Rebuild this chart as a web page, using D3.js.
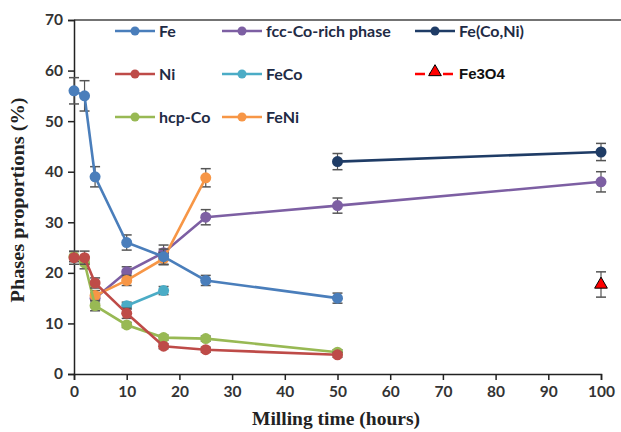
<!DOCTYPE html>
<html lang="en">
<head>
<meta charset="UTF-8">
<title>Phases proportions</title>
<script src="https://d3js.org/d3.v7.min.js"></script>
<style>
  body { margin: 0; background: #fff; }
  svg { display: block; }
  .tick text { font-family: Lato, "Open Sans", sans-serif; font-weight: bold; font-size: 15.5px; fill: #333; }
  .axis-title { font-family: "Liberation Serif", serif; font-weight: bold; font-size: 18.5px; fill: #222; }
  .legend text { font-family: Lato, sans-serif; font-weight: bold; font-size: 16px; fill: #1f2b45; }
</style>
</head>
<body>
<div id="chart"></div>
<script>
  // milling time (hours) and phase proportions (%)
  var feX = [0, 2, 4, 10, 17, 25, 50];
  var feY = [56, 55, 39, 26, 23.2, 18.5, 15];
  var feErr = [2.6, 3, 2, 1.5, 1.5, 1, 1];

  var niX = [0, 2, 4, 10, 17, 25, 50];
  var niY = [23, 23, 18, 12, 5.5, 4.8, 3.8];
  var niErr = [1.3, 1.3, 1, 1, 0.5, 0.5, 0.5];

  var hcpX = [0, 2, 4, 10, 17, 25, 50];
  var hcpY = [23.2, 22, 13.5, 9.7, 7.2, 7, 4.3];
  var hcpErr = [1, 1.2, 1, 0.5, 0.5, 0.5, 0.5];

  var fccX = [4, 10, 17, 25, 50, 100];
  var fccY = [15, 20.2, 24, 31, 33.3, 38];
  var fccErr = [1, 1, 1.5, 1.5, 1.5, 2];

  var fecoX = [10, 17];
  var fecoY = [13.5, 16.5];
  var fecoErr = [0.7, 0.8];

  var feniX = [4, 10, 17, 25];
  var feniY = [15.5, 18.5, 22.8, 38.8];
  var feniErr = [1, 1, 1.2, 1.8];

  var feconiX = [50, 100];
  var feconiY = [42, 43.9];
  var feconiErr = [1.6, 1.7];

  var fe3o4X = [100];
  var fe3o4Y = [17.7];
  var fe3o4Err = [2.5];

  var xTicks = [0, 10, 20, 30, 40, 50, 60, 70, 80, 90, 100];
  var yTicks = [0, 10, 20, 30, 40, 50, 60, 70];

  function zip(xs, ys, es) {
    return xs.map(function (x, i) { return { x: x, y: ys[i], e: es[i] }; });
  }

  var series = [
    { name: 'Fe(Co,Ni)', color: '#1f3c66', pts: zip(feconiX, feconiY, feconiErr) },
    { name: 'fcc-Co-rich phase', color: '#7d5fa3', pts: zip(fccX, fccY, fccErr) },
    { name: 'FeNi', color: '#f79646', pts: zip(feniX, feniY, feniErr) },
    { name: 'FeCo', color: '#4bacc6', pts: zip(fecoX, fecoY, fecoErr) },
    { name: 'hcp-Co', color: '#98b954', pts: zip(hcpX, hcpY, hcpErr) },
    { name: 'Ni', color: '#be4b48', pts: zip(niX, niY, niErr) },
    { name: 'Fe', color: '#4a7ebb', pts: zip(feX, feY, feErr) }
  ];
  var triPts = zip(fe3o4X, fe3o4Y, fe3o4Err);

  var width = 621, height = 432;
  var svg = d3.select('#chart').append('svg').attr('width', width).attr('height', height);

  var x = d3.scaleLinear().domain([0, 100]).range([74, 601]);
  var y = d3.scaleLinear().domain([0, 70]).range([374, 20]);

  // top frame line
  svg.append('line').attr('x1', 74).attr('x2', 621).attr('y1', y(70)).attr('y2', y(70))
    .attr('stroke', '#444').attr('stroke-width', 1.5);

  var xAxis = svg.append('g').attr('transform', 'translate(0,' + y(0) + ')')
    .call(d3.axisBottom(x).tickValues(xTicks).tickSize(6).tickPadding(6));
  var yAxis = svg.append('g').attr('transform', 'translate(' + x(0) + ',0)')
    .call(d3.axisLeft(y).tickValues(yTicks).tickSize(6).tickPadding(5));
  [xAxis, yAxis].forEach(function (a) {
    a.select('.domain').attr('stroke', '#222').attr('stroke-width', 1.5);
    a.selectAll('.tick line').attr('stroke', '#222').attr('stroke-width', 1.5);
  });

  svg.append('text').attr('class', 'axis-title').attr('x', 336).attr('y', 425)
    .attr('text-anchor', 'middle').attr('textLength', 168).attr('lengthAdjust', 'spacingAndGlyphs')
    .text('Milling time (hours)');
  svg.append('text').attr('class', 'axis-title')
    .attr('transform', 'translate(24,200) rotate(-90)')
    .attr('text-anchor', 'middle').attr('textLength', 205).attr('lengthAdjust', 'spacingAndGlyphs')
    .text('Phases proportions (%)');

  var line = d3.line().x(function (d) { return x(d.x); }).y(function (d) { return y(d.y); });

  function errorBars(g, pts) {
    pts.forEach(function (d) {
      var cx = x(d.x), t = y(d.y + d.e), b = y(d.y - d.e);
      g.append('line').attr('x1', cx).attr('x2', cx).attr('y1', t).attr('y2', b)
        .attr('stroke', '#555').attr('stroke-width', 1.2);
      [t, b].forEach(function (yy) {
        g.append('line').attr('x1', cx - 5).attr('x2', cx + 5).attr('y1', yy).attr('y2', yy)
          .attr('stroke', '#555').attr('stroke-width', 1.5);
      });
    });
  }

  series.forEach(function (s) {
    var g = svg.append('g');
    errorBars(g, s.pts);
    g.append('path').datum(s.pts).attr('d', line)
      .attr('fill', 'none').attr('stroke', s.color).attr('stroke-width', 2.6);
    g.selectAll('circle').data(s.pts).enter().append('circle')
      .attr('cx', function (d) { return x(d.x); })
      .attr('cy', function (d) { return y(d.y); })
      .attr('r', 5.5).attr('fill', s.color);
  });

  var tri = d3.symbol().type(d3.symbolTriangle).size(70);
  var gt = svg.append('g');
  errorBars(gt, triPts);
  gt.selectAll('path.tri').data(triPts).enter().append('path')
    .attr('class', 'tri')
    .attr('transform', function (d) { return 'translate(' + x(d.x) + ',' + y(d.y) + ')'; })
    .attr('d', tri).attr('fill', '#ff0000').attr('stroke', '#000').attr('stroke-width', 1);

  // legend
  var legendItems = [
    { name: 'Fe', color: '#4a7ebb', col: 0, row: 0 },
    { name: 'Ni', color: '#be4b48', col: 0, row: 1 },
    { name: 'hcp-Co', color: '#98b954', col: 0, row: 2 },
    { name: 'fcc-Co-rich phase', color: '#7d5fa3', col: 1, row: 0 },
    { name: 'FeCo', color: '#4bacc6', col: 1, row: 1 },
    { name: 'FeNi', color: '#f79646', col: 1, row: 2 },
    { name: 'Fe(Co,Ni)', color: '#1f3c66', col: 2, row: 0 },
    { name: 'Fe3O4', color: '#ff0000', col: 2, row: 1, tri: true }
  ];
  var colX = [115, 222, 415];
  var rowY = [31, 74, 117];
  var legend = svg.append('g').attr('class', 'legend');
  legendItems.forEach(function (d) {
    var lx = colX[d.col], ly = rowY[d.row];
    var g = legend.append('g').attr('transform', 'translate(' + lx + ',' + ly + ')');
    g.append('line').attr('x1', 0).attr('x2', 40).attr('y1', 0).attr('y2', 0)
      .attr('stroke', d.color).attr('stroke-width', 2.4)
      .attr('stroke-dasharray', d.tri ? '10,4' : null);
    if (d.tri) {
      g.append('path').attr('transform', 'translate(20,-2)').attr('d', tri)
        .attr('fill', '#ff0000').attr('stroke', '#000').attr('stroke-width', 1);
      g.append('text').attr('x', 44).attr('y', 5)
        .style('font-family', '"Liberation Sans", Arial, sans-serif').style('font-size', '15px')
        .style('fill', '#111').text(d.name);
    } else {
      g.append('circle').attr('cx', 20).attr('cy', 0).attr('r', 4.5).attr('fill', d.color);
      g.append('text').attr('x', 44).attr('y', 5.5).text(d.name);
    }
  });
</script>
</body>
</html>
